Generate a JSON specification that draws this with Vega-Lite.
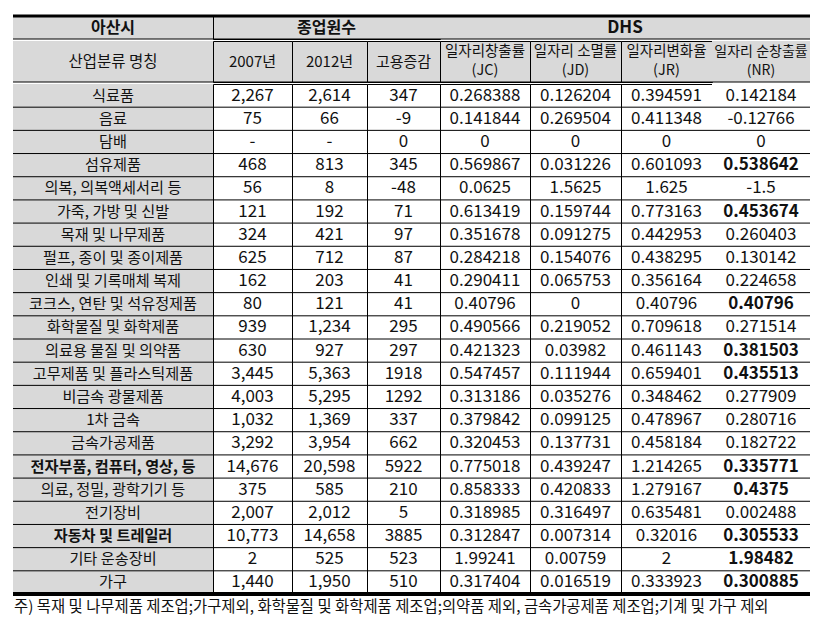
{
  "$schema": "https://vega.github.io/schema/vega-lite/v6.json",
  "padding": {"left": 11, "top": 14, "right": 5, "bottom": 5},
  "background": "white",
  "spacing": 0,
  "config": {
    "view": {"stroke": null},
    "concat": {"spacing": 0},
    "locale": {"number": {"decimal": ".", "thousands": ",", "grouping": [3], "currency": ["", ""], "minus": "-"}},
    "text": {"font": "'Liberation Sans Narrow', 'Noto Sans CJK KR', sans-serif", "color": "#111"},
    "rule": {"color": "#000"}
  },
  "title": {
    "text": "주) 목재 및 나무제품 제조업;가구제외, 화학물질 및 화학제품 제조업;의약품 제외, 금속가공제품 제조업;기계 및 가구 제외",
    "orient": "bottom", "anchor": "start", "offset": 3, "dx": 3,
    "font": "'Noto Sans CJK KR', sans-serif", "fontSize": 15.4, "fontWeight": "normal", "color": "#111"
  },
  "datasets": {
    "h1": [
      {"k": "h1", "c": "a", "t": "아산시"},
      {"k": "h1", "c": "b", "t": "종업원수"},
      {"k": "h1", "c": "c", "t": "DHS"}
    ],
    "h2": [
      {"k": "h2", "c": "name", "t": "산업분류 명칭"},
      {"k": "h2", "c": "e07", "t": "2007년"},
      {"k": "h2", "c": "e12", "t": "2012년"},
      {"k": "h2", "c": "d", "t": "고용증감"},
      {"k": "h2", "c": "jc", "t": "일자리창출률\n(JC)"},
      {"k": "h2", "c": "jd", "t": "일자리 소멸률\n(JD)"},
      {"k": "h2", "c": "jr", "t": "일자리변화율\n(JR)"},
      {"k": "h2", "c": "nr", "t": "일자리 순창출률\n(NR)"}
    ],
    "body": [
      {"r": 1, "name": "식료품", "e07": 2267, "e12": 2614, "d": 347, "jc": 0.268388, "jd": 0.126204, "jr": 0.394591, "nr": 0.142184, "nb": false, "vb": false},
      {"r": 2, "name": "음료", "e07": 75, "e12": 66, "d": -9, "jc": 0.141844, "jd": 0.269504, "jr": 0.411348, "nr": -0.12766, "nb": false, "vb": false},
      {"r": 3, "name": "담배", "e07": null, "e12": null, "d": 0, "jc": 0, "jd": 0, "jr": 0, "nr": 0, "nb": false, "vb": false},
      {"r": 4, "name": "섬유제품", "e07": 468, "e12": 813, "d": 345, "jc": 0.569867, "jd": 0.031226, "jr": 0.601093, "nr": 0.538642, "nb": false, "vb": true},
      {"r": 5, "name": "의복, 의복액세서리 등", "e07": 56, "e12": 8, "d": -48, "jc": 0.0625, "jd": 1.5625, "jr": 1.625, "nr": -1.5, "nb": false, "vb": false},
      {"r": 6, "name": "가죽, 가방 및 신발", "e07": 121, "e12": 192, "d": 71, "jc": 0.613419, "jd": 0.159744, "jr": 0.773163, "nr": 0.453674, "nb": false, "vb": true},
      {"r": 7, "name": "목재 및 나무제품", "e07": 324, "e12": 421, "d": 97, "jc": 0.351678, "jd": 0.091275, "jr": 0.442953, "nr": 0.260403, "nb": false, "vb": false},
      {"r": 8, "name": "펄프, 종이 및 종이제품", "e07": 625, "e12": 712, "d": 87, "jc": 0.284218, "jd": 0.154076, "jr": 0.438295, "nr": 0.130142, "nb": false, "vb": false},
      {"r": 9, "name": "인쇄 및 기록매체 복제", "e07": 162, "e12": 203, "d": 41, "jc": 0.290411, "jd": 0.065753, "jr": 0.356164, "nr": 0.224658, "nb": false, "vb": false},
      {"r": 10, "name": "코크스, 연탄 및 석유정제품", "e07": 80, "e12": 121, "d": 41, "jc": 0.40796, "jd": 0, "jr": 0.40796, "nr": 0.40796, "nb": false, "vb": true},
      {"r": 11, "name": "화학물질 및 화학제품", "e07": 939, "e12": 1234, "d": 295, "jc": 0.490566, "jd": 0.219052, "jr": 0.709618, "nr": 0.271514, "nb": false, "vb": false},
      {"r": 12, "name": "의료용 물질 및 의약품", "e07": 630, "e12": 927, "d": 297, "jc": 0.421323, "jd": 0.03982, "jr": 0.461143, "nr": 0.381503, "nb": false, "vb": true},
      {"r": 13, "name": "고무제품 및 플라스틱제품", "e07": 3445, "e12": 5363, "d": 1918, "jc": 0.547457, "jd": 0.111944, "jr": 0.659401, "nr": 0.435513, "nb": false, "vb": true},
      {"r": 14, "name": "비금속 광물제품", "e07": 4003, "e12": 5295, "d": 1292, "jc": 0.313186, "jd": 0.035276, "jr": 0.348462, "nr": 0.277909, "nb": false, "vb": false},
      {"r": 15, "name": "1차 금속", "e07": 1032, "e12": 1369, "d": 337, "jc": 0.379842, "jd": 0.099125, "jr": 0.478967, "nr": 0.280716, "nb": false, "vb": false},
      {"r": 16, "name": "금속가공제품", "e07": 3292, "e12": 3954, "d": 662, "jc": 0.320453, "jd": 0.137731, "jr": 0.458184, "nr": 0.182722, "nb": false, "vb": false},
      {"r": 17, "name": "전자부품, 컴퓨터, 영상, 등", "e07": 14676, "e12": 20598, "d": 5922, "jc": 0.775018, "jd": 0.439247, "jr": 1.214265, "nr": 0.335771, "nb": true, "vb": true},
      {"r": 18, "name": "의료, 정밀, 광학기기 등", "e07": 375, "e12": 585, "d": 210, "jc": 0.858333, "jd": 0.420833, "jr": 1.279167, "nr": 0.4375, "nb": false, "vb": true},
      {"r": 19, "name": "전기장비", "e07": 2007, "e12": 2012, "d": 5, "jc": 0.318985, "jd": 0.316497, "jr": 0.635481, "nr": 0.002488, "nb": false, "vb": false},
      {"r": 20, "name": "자동차 및 트레일러", "e07": 10773, "e12": 14658, "d": 3885, "jc": 0.312847, "jd": 0.007314, "jr": 0.32016, "nr": 0.305533, "nb": true, "vb": true},
      {"r": 21, "name": "기타 운송장비", "e07": 2, "e12": 525, "d": 523, "jc": 1.99241, "jd": 0.00759, "jr": 2, "nr": 1.98482, "nb": false, "vb": true},
      {"r": 22, "name": "가구", "e07": 1440, "e12": 1950, "d": 510, "jc": 0.317404, "jd": 0.016519, "jr": 0.333923, "nr": 0.300885, "nb": false, "vb": true}
    ]
  },
  "vconcat": [
    {
      "spacing": 0, "bounds": "flush",
      "hconcat": [
        {"width": 200, "height": 23, "view": {"fill": "#d9d9d9", "stroke": null}, "data": {"name": "h1"}, "transform": [{"filter": "datum.c == 'a'"}],
         "layer": [
          {"mark": {"type": "rule", "strokeWidth": 3}, "encoding": {"y": {"field": "k", "type": "nominal", "axis": null, "scale": {"paddingInner": 0, "paddingOuter": 0}, "bandPosition": 0}}},
          {"mark": {"type": "rule", "strokeWidth": 1}, "encoding": {"y": {"field": "k", "type": "nominal", "axis": null, "scale": {"paddingInner": 0, "paddingOuter": 0}, "bandPosition": 1}}},
          {"mark": {"type": "text", "fontWeight": "bold", "fontSize": 16}, "encoding": {"y": {"field": "k", "type": "nominal", "axis": null, "scale": {"paddingInner": 0, "paddingOuter": 0}}, "text": {"field": "t", "type": "nominal"}}}
         ]},
        {"width": 227, "height": 23, "view": {"fill": "#d9d9d9", "stroke": "#000", "strokeWidth": 1}, "data": {"name": "h1"}, "transform": [{"filter": "datum.c == 'b'"}],
         "layer": [
          {"mark": {"type": "rule", "strokeWidth": 3}, "encoding": {"y": {"field": "k", "type": "nominal", "axis": null, "scale": {"paddingInner": 0, "paddingOuter": 0}, "bandPosition": 0}}},
          {"mark": {"type": "rule", "strokeWidth": 1}, "encoding": {"y": {"field": "k", "type": "nominal", "axis": null, "scale": {"paddingInner": 0, "paddingOuter": 0}, "bandPosition": 1}}},
          {"mark": {"type": "text", "fontWeight": "bold", "fontSize": 16}, "encoding": {"y": {"field": "k", "type": "nominal", "axis": null, "scale": {"paddingInner": 0, "paddingOuter": 0}}, "text": {"field": "t", "type": "nominal"}}}
         ]},
        {"width": 370, "height": 23, "view": {"fill": "#d9d9d9", "stroke": null}, "data": {"name": "h1"}, "transform": [{"filter": "datum.c == 'c'"}],
         "layer": [
          {"mark": {"type": "rule", "strokeWidth": 3}, "encoding": {"y": {"field": "k", "type": "nominal", "axis": null, "scale": {"paddingInner": 0, "paddingOuter": 0}, "bandPosition": 0}}},
          {"mark": {"type": "rule", "strokeWidth": 1}, "encoding": {"y": {"field": "k", "type": "nominal", "axis": null, "scale": {"paddingInner": 0, "paddingOuter": 0}, "bandPosition": 1}}},
          {"mark": {"type": "text", "fontWeight": "bold", "fontSize": 17}, "encoding": {"y": {"field": "k", "type": "nominal", "axis": null, "scale": {"paddingInner": 0, "paddingOuter": 0}}, "text": {"field": "t", "type": "nominal"}}}
         ]}
      ]
    },
    {
      "spacing": 0, "bounds": "flush",
      "hconcat": [
        {"width": 200, "height": 41, "view": {"fill": "#d9d9d9", "stroke": null}, "data": {"name": "h2"}, "transform": [{"filter": "datum.c == 'name'"}],
         "layer": [
          {"mark": {"type": "rule", "strokeWidth": 1}, "encoding": {"y": {"field": "k", "type": "nominal", "axis": null, "scale": {"paddingInner": 0, "paddingOuter": 0}, "bandPosition": 1}}},
          {"mark": {"type": "text", "fontSize": 15.5}, "encoding": {"y": {"field": "k", "type": "nominal", "axis": null, "scale": {"paddingInner": 0, "paddingOuter": 0}}, "text": {"field": "t", "type": "nominal"}}}
         ]},
        {"width": 79, "height": 41, "view": {"fill": "#d9d9d9", "stroke": "#000", "strokeWidth": 1}, "data": {"name": "h2"}, "transform": [{"filter": "datum.c == 'e07'"}],
         "layer": [
          {"mark": {"type": "rule", "strokeWidth": 1}, "encoding": {"y": {"field": "k", "type": "nominal", "axis": null, "scale": {"paddingInner": 0, "paddingOuter": 0}, "bandPosition": 1}}},
          {"mark": {"type": "text", "fontSize": 15}, "encoding": {"y": {"field": "k", "type": "nominal", "axis": null, "scale": {"paddingInner": 0, "paddingOuter": 0}}, "text": {"field": "t", "type": "nominal"}}}
         ]},
        {"width": 75, "height": 41, "view": {"fill": "#d9d9d9", "stroke": "#000", "strokeWidth": 1}, "data": {"name": "h2"}, "transform": [{"filter": "datum.c == 'e12'"}],
         "layer": [
          {"mark": {"type": "rule", "strokeWidth": 1}, "encoding": {"y": {"field": "k", "type": "nominal", "axis": null, "scale": {"paddingInner": 0, "paddingOuter": 0}, "bandPosition": 1}}},
          {"mark": {"type": "text", "fontSize": 15}, "encoding": {"y": {"field": "k", "type": "nominal", "axis": null, "scale": {"paddingInner": 0, "paddingOuter": 0}}, "text": {"field": "t", "type": "nominal"}}}
         ]},
        {"width": 73, "height": 41, "view": {"fill": "#d9d9d9", "stroke": "#000", "strokeWidth": 1}, "data": {"name": "h2"}, "transform": [{"filter": "datum.c == 'd'"}],
         "layer": [
          {"mark": {"type": "rule", "strokeWidth": 1}, "encoding": {"y": {"field": "k", "type": "nominal", "axis": null, "scale": {"paddingInner": 0, "paddingOuter": 0}, "bandPosition": 1}}},
          {"mark": {"type": "text", "fontSize": 15}, "encoding": {"y": {"field": "k", "type": "nominal", "axis": null, "scale": {"paddingInner": 0, "paddingOuter": 0}}, "text": {"field": "t", "type": "nominal"}}}
         ]},
        {"width": 90, "height": 41, "view": {"fill": "#d9d9d9", "stroke": "#000", "strokeWidth": 1}, "data": {"name": "h2"}, "transform": [{"filter": "datum.c == 'jc'"}],
         "layer": [
          {"mark": {"type": "rule", "strokeWidth": 1}, "encoding": {"y": {"field": "k", "type": "nominal", "axis": null, "scale": {"paddingInner": 0, "paddingOuter": 0}, "bandPosition": 1}}},
          {"mark": {"type": "text", "fontSize": 14.5, "lineBreak": "\n", "lineHeight": 19, "dy": -9.5}, "encoding": {"y": {"field": "k", "type": "nominal", "axis": null, "scale": {"paddingInner": 0, "paddingOuter": 0}}, "text": {"field": "t", "type": "nominal"}}}
         ]},
        {"width": 91, "height": 41, "view": {"fill": "#d9d9d9", "stroke": "#000", "strokeWidth": 1}, "data": {"name": "h2"}, "transform": [{"filter": "datum.c == 'jd'"}],
         "layer": [
          {"mark": {"type": "rule", "strokeWidth": 1}, "encoding": {"y": {"field": "k", "type": "nominal", "axis": null, "scale": {"paddingInner": 0, "paddingOuter": 0}, "bandPosition": 1}}},
          {"mark": {"type": "text", "fontSize": 14.5, "lineBreak": "\n", "lineHeight": 19, "dy": -9.5}, "encoding": {"y": {"field": "k", "type": "nominal", "axis": null, "scale": {"paddingInner": 0, "paddingOuter": 0}}, "text": {"field": "t", "type": "nominal"}}}
         ]},
        {"width": 91, "height": 41, "view": {"fill": "#d9d9d9", "stroke": "#000", "strokeWidth": 1}, "data": {"name": "h2"}, "transform": [{"filter": "datum.c == 'jr'"}],
         "layer": [
          {"mark": {"type": "rule", "strokeWidth": 1}, "encoding": {"y": {"field": "k", "type": "nominal", "axis": null, "scale": {"paddingInner": 0, "paddingOuter": 0}, "bandPosition": 1}}},
          {"mark": {"type": "text", "fontSize": 14.5, "lineBreak": "\n", "lineHeight": 19, "dy": -9.5}, "encoding": {"y": {"field": "k", "type": "nominal", "axis": null, "scale": {"paddingInner": 0, "paddingOuter": 0}}, "text": {"field": "t", "type": "nominal"}}}
         ]},
        {"width": 98, "height": 41, "view": {"fill": "#d9d9d9", "stroke": null}, "data": {"name": "h2"}, "transform": [{"filter": "datum.c == 'nr'"}],
         "layer": [
          {"mark": {"type": "rule", "strokeWidth": 1}, "encoding": {"y": {"field": "k", "type": "nominal", "axis": null, "scale": {"paddingInner": 0, "paddingOuter": 0}, "bandPosition": 1}}},
          {"mark": {"type": "text", "fontSize": 14, "lineBreak": "\n", "lineHeight": 19, "dy": -9.5}, "encoding": {"y": {"field": "k", "type": "nominal", "axis": null, "scale": {"paddingInner": 0, "paddingOuter": 0}}, "text": {"field": "t", "type": "nominal"}}}
         ]}
      ]
    },
    {
      "spacing": 0, "bounds": "flush",
      "hconcat": [
        {"width": 200, "height": 510, "view": {"fill": "#d9d9d9", "stroke": null}, "data": {"name": "body"},
         "layer": [
          {"mark": {"type": "rule", "strokeWidth": 1}, "encoding": {"y": {"field": "r", "type": "ordinal", "axis": null, "scale": {"paddingInner": 0, "paddingOuter": 0}, "bandPosition": 1}}},
          {"transform": [{"filter": "datum.r == 22"}], "mark": {"type": "rule", "strokeWidth": 4}, "encoding": {"y": {"field": "r", "type": "ordinal", "axis": null, "scale": {"paddingInner": 0, "paddingOuter": 0}, "bandPosition": 1}}},
          {"transform": [{"filter": "!datum.nb"}], "mark": {"type": "text", "fontSize": 15.2}, "encoding": {"y": {"field": "r", "type": "ordinal", "axis": null, "scale": {"paddingInner": 0, "paddingOuter": 0}}, "text": {"field": "name", "type": "nominal"}}},
          {"transform": [{"filter": "datum.nb"}], "mark": {"type": "text", "fontSize": 15.2, "fontWeight": "bold"}, "encoding": {"y": {"field": "r", "type": "ordinal", "axis": null, "scale": {"paddingInner": 0, "paddingOuter": 0}}, "text": {"field": "name", "type": "nominal"}}}
         ]},
        {"width": 79, "height": 510, "view": {"fill": "white", "stroke": "#000", "strokeWidth": 1}, "data": {"name": "body"},
         "layer": [
          {"mark": {"type": "rule", "strokeWidth": 1}, "encoding": {"y": {"field": "r", "type": "ordinal", "axis": null, "scale": {"paddingInner": 0, "paddingOuter": 0}, "bandPosition": 1}}},
          {"transform": [{"filter": "datum.r == 22"}], "mark": {"type": "rule", "strokeWidth": 4}, "encoding": {"y": {"field": "r", "type": "ordinal", "axis": null, "scale": {"paddingInner": 0, "paddingOuter": 0}, "bandPosition": 1}}},
          {"transform": [{"filter": "isValid(datum.e07)"}], "mark": {"type": "text", "fontSize": 17}, "encoding": {"y": {"field": "r", "type": "ordinal", "axis": null, "scale": {"paddingInner": 0, "paddingOuter": 0}}, "text": {"field": "e07", "type": "quantitative", "format": ","}}},
          {"transform": [{"filter": "!isValid(datum.e07)"}], "mark": {"type": "text", "fontSize": 17}, "encoding": {"y": {"field": "r", "type": "ordinal", "axis": null, "scale": {"paddingInner": 0, "paddingOuter": 0}}, "text": {"value": "-"}}}
         ]},
        {"width": 75, "height": 510, "view": {"fill": "white", "stroke": "#000", "strokeWidth": 1}, "data": {"name": "body"},
         "layer": [
          {"mark": {"type": "rule", "strokeWidth": 1}, "encoding": {"y": {"field": "r", "type": "ordinal", "axis": null, "scale": {"paddingInner": 0, "paddingOuter": 0}, "bandPosition": 1}}},
          {"transform": [{"filter": "datum.r == 22"}], "mark": {"type": "rule", "strokeWidth": 4}, "encoding": {"y": {"field": "r", "type": "ordinal", "axis": null, "scale": {"paddingInner": 0, "paddingOuter": 0}, "bandPosition": 1}}},
          {"transform": [{"filter": "isValid(datum.e12)"}], "mark": {"type": "text", "fontSize": 17}, "encoding": {"y": {"field": "r", "type": "ordinal", "axis": null, "scale": {"paddingInner": 0, "paddingOuter": 0}}, "text": {"field": "e12", "type": "quantitative", "format": ","}}},
          {"transform": [{"filter": "!isValid(datum.e12)"}], "mark": {"type": "text", "fontSize": 17}, "encoding": {"y": {"field": "r", "type": "ordinal", "axis": null, "scale": {"paddingInner": 0, "paddingOuter": 0}}, "text": {"value": "-"}}}
         ]},
        {"width": 73, "height": 510, "view": {"fill": "white", "stroke": "#000", "strokeWidth": 1}, "data": {"name": "body"},
         "layer": [
          {"mark": {"type": "rule", "strokeWidth": 1}, "encoding": {"y": {"field": "r", "type": "ordinal", "axis": null, "scale": {"paddingInner": 0, "paddingOuter": 0}, "bandPosition": 1}}},
          {"transform": [{"filter": "datum.r == 22"}], "mark": {"type": "rule", "strokeWidth": 4}, "encoding": {"y": {"field": "r", "type": "ordinal", "axis": null, "scale": {"paddingInner": 0, "paddingOuter": 0}, "bandPosition": 1}}},
          {"mark": {"type": "text", "fontSize": 17}, "encoding": {"y": {"field": "r", "type": "ordinal", "axis": null, "scale": {"paddingInner": 0, "paddingOuter": 0}}, "text": {"field": "d", "type": "quantitative", "format": "d"}}}
         ]},
        {"width": 90, "height": 510, "view": {"fill": "white", "stroke": "#000", "strokeWidth": 1}, "data": {"name": "body"},
         "layer": [
          {"mark": {"type": "rule", "strokeWidth": 1}, "encoding": {"y": {"field": "r", "type": "ordinal", "axis": null, "scale": {"paddingInner": 0, "paddingOuter": 0}, "bandPosition": 1}}},
          {"transform": [{"filter": "datum.r == 22"}], "mark": {"type": "rule", "strokeWidth": 4}, "encoding": {"y": {"field": "r", "type": "ordinal", "axis": null, "scale": {"paddingInner": 0, "paddingOuter": 0}, "bandPosition": 1}}},
          {"mark": {"type": "text", "fontSize": 17}, "encoding": {"y": {"field": "r", "type": "ordinal", "axis": null, "scale": {"paddingInner": 0, "paddingOuter": 0}}, "text": {"field": "jc", "type": "quantitative", "format": ".12~r"}}}
         ]},
        {"width": 91, "height": 510, "view": {"fill": "white", "stroke": "#000", "strokeWidth": 1}, "data": {"name": "body"},
         "layer": [
          {"mark": {"type": "rule", "strokeWidth": 1}, "encoding": {"y": {"field": "r", "type": "ordinal", "axis": null, "scale": {"paddingInner": 0, "paddingOuter": 0}, "bandPosition": 1}}},
          {"transform": [{"filter": "datum.r == 22"}], "mark": {"type": "rule", "strokeWidth": 4}, "encoding": {"y": {"field": "r", "type": "ordinal", "axis": null, "scale": {"paddingInner": 0, "paddingOuter": 0}, "bandPosition": 1}}},
          {"mark": {"type": "text", "fontSize": 17}, "encoding": {"y": {"field": "r", "type": "ordinal", "axis": null, "scale": {"paddingInner": 0, "paddingOuter": 0}}, "text": {"field": "jd", "type": "quantitative", "format": ".12~r"}}}
         ]},
        {"width": 91, "height": 510, "view": {"fill": "white", "stroke": "#000", "strokeWidth": 1}, "data": {"name": "body"},
         "layer": [
          {"mark": {"type": "rule", "strokeWidth": 1}, "encoding": {"y": {"field": "r", "type": "ordinal", "axis": null, "scale": {"paddingInner": 0, "paddingOuter": 0}, "bandPosition": 1}}},
          {"transform": [{"filter": "datum.r == 22"}], "mark": {"type": "rule", "strokeWidth": 4}, "encoding": {"y": {"field": "r", "type": "ordinal", "axis": null, "scale": {"paddingInner": 0, "paddingOuter": 0}, "bandPosition": 1}}},
          {"mark": {"type": "text", "fontSize": 17}, "encoding": {"y": {"field": "r", "type": "ordinal", "axis": null, "scale": {"paddingInner": 0, "paddingOuter": 0}}, "text": {"field": "jr", "type": "quantitative", "format": ".12~r"}}}
         ]},
        {"width": 98, "height": 510, "view": {"fill": "white", "stroke": null}, "data": {"name": "body"},
         "layer": [
          {"mark": {"type": "rule", "strokeWidth": 1}, "encoding": {"y": {"field": "r", "type": "ordinal", "axis": null, "scale": {"paddingInner": 0, "paddingOuter": 0}, "bandPosition": 1}}},
          {"transform": [{"filter": "datum.r == 22"}], "mark": {"type": "rule", "strokeWidth": 4}, "encoding": {"y": {"field": "r", "type": "ordinal", "axis": null, "scale": {"paddingInner": 0, "paddingOuter": 0}, "bandPosition": 1}}},
          {"transform": [{"filter": "!datum.vb"}], "mark": {"type": "text", "fontSize": 17}, "encoding": {"y": {"field": "r", "type": "ordinal", "axis": null, "scale": {"paddingInner": 0, "paddingOuter": 0}}, "text": {"field": "nr", "type": "quantitative", "format": ".12~r"}}},
          {"transform": [{"filter": "datum.vb"}], "mark": {"type": "text", "fontSize": 17, "fontWeight": "bold"}, "encoding": {"y": {"field": "r", "type": "ordinal", "axis": null, "scale": {"paddingInner": 0, "paddingOuter": 0}}, "text": {"field": "nr", "type": "quantitative", "format": ".12~r"}}}
         ]}
      ]
    }
  ]
}
